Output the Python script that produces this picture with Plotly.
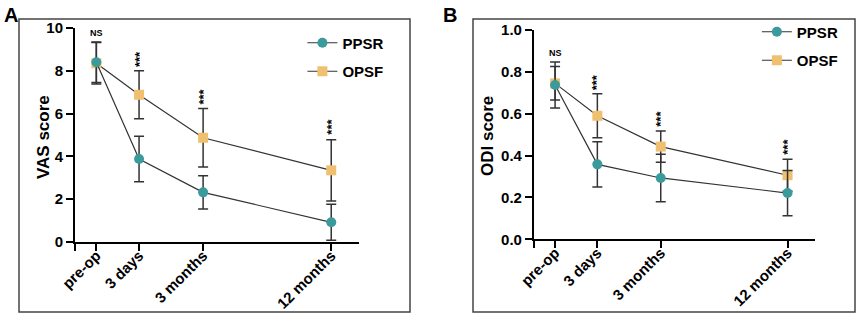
import plotly.graph_objects as go

# ---------------- data ----------------
timepoints = ["pre-op", "3 days", "3 months", "12 months"]
time_pos = [0, 2, 5, 11]

vas_ppsr = [8.40, 3.88, 2.32, 0.92]
vas_ppsr_sd = [0.95, 1.06, 0.78, 0.84]
vas_opsf = [8.35, 6.88, 4.87, 3.35]
vas_opsf_sd = [0.97, 1.12, 1.37, 1.43]

odi_ppsr = [0.737, 0.358, 0.293, 0.221]
odi_ppsr_sd = [0.11, 0.108, 0.113, 0.108]
odi_opsf = [0.745, 0.590, 0.443, 0.306]
odi_opsf_sd = [0.08, 0.105, 0.075, 0.076]

sig_labels = ["NS", "***", "***", "***"]

TEAL = "#3a9a9c"
GOLD = "#efc070"
DARK = "#333333"
FONT = "Liberation Sans, Arial, sans-serif"

fig = go.Figure()

def add_series(xaxis, yaxis, y, sd, name, color, symbol, legend, rank):
    fig.add_trace(go.Scatter(
        x=time_pos, y=y, name=name, mode="lines+markers",
        xaxis=xaxis, yaxis=yaxis, legend=legend, legendrank=rank,
        legendgroup=legend + name,
        line=dict(color=DARK, width=1.2),
        marker=dict(color=color, size=10, symbol=symbol, line=dict(width=0)),
        error_y=dict(type="data", array=sd, visible=True, color=DARK,
                     thickness=1.5, width=5),
        cliponaxis=False,
    ))

add_series("x", "y", vas_opsf, vas_opsf_sd, "OPSF", GOLD, "square", "legend", 2)
add_series("x", "y", vas_ppsr, vas_ppsr_sd, "PPSR", TEAL, "circle", "legend", 1)
add_series("x2", "y2", odi_opsf, odi_opsf_sd, "OPSF", GOLD, "square", "legend2", 2)
add_series("x2", "y2", odi_ppsr, odi_ppsr_sd, "PPSR", TEAL, "circle", "legend2", 1)

tickvals = [-1] + time_pos
ticktext = [""] + timepoints

axis_common = dict(showline=True, linecolor="black", linewidth=2,
                   ticks="outside", ticklen=7, tickwidth=2, tickcolor="black",
                   showgrid=False, zeroline=False, automargin=False,
                   ticklabeloverflow="allow",
                   tickfont=dict(family=FONT, size=15, color="black", weight="bold"))

xcommon = dict(axis_common, tickvals=tickvals, ticktext=ticktext, tickangle=-45,
               range=[-1, 12.3], ticklabelstandoff=-10)
xcommon["tickfont"] = dict(family=FONT, size=15, color="black", weight="bold")

legend_common = dict(xanchor="left", yanchor="middle", traceorder="grouped",
                     itemwidth=30, bgcolor="rgba(0,0,0,0)", tracegroupgap=6,
                     font=dict(family=FONT, size=15, weight="bold"))

fig.update_layout(
    width=864, height=314,
    margin=dict(l=0, r=0, t=0, b=0, pad=0, autoexpand=False),
    paper_bgcolor="white", plot_bgcolor="white",
    font=dict(family=FONT, color="black"),
    xaxis=dict(xcommon, domain=[0.0868, 0.4155], anchor="y"),
    yaxis=dict(axis_common, domain=[0.2293, 0.9108], anchor="x", range=[0, 10],
               tickvals=[0, 2, 4, 6, 8, 10]),
    xaxis2=dict(xcommon, domain=[0.618, 0.9433], anchor="y2"),
    yaxis2=dict(axis_common, domain=[0.2379, 0.9045], anchor="x2", range=[0, 1.0],
                tickvals=[0, 0.2, 0.4, 0.6, 0.8, 1.0], tickformat=".1f"),
    legend=dict(legend_common, x=0.35, y=1 - 57 / 314),
    legend2=dict(legend_common, x=0.876, y=1 - 46 / 314),
    showlegend=True,
)

# axis titles (placed next to the narrow tick labels, as in the reference)
for txt, xp, yp in [("VAS score", 43 / 864, 1 - 137 / 314),
                    ("ODI score", 487 / 864, 1 - 136 / 314)]:
    fig.add_annotation(text=txt, xref="paper", yref="paper", x=xp, y=yp,
                       textangle=-90, showarrow=False, xanchor="center", yanchor="middle",
                       font=dict(family=FONT, size=17, weight="bold", color="black"))

# panel boxes
for x0, x1 in [(19 / 864, 410 / 864), (473 / 864, 855 / 864)]:
    fig.add_shape(type="rect", xref="paper", yref="paper", x0=x0, x1=x1,
                  y0=1 - 312 / 314, y1=1 - 19 / 314,
                  line=dict(color="#444444", width=1.5))

# panel letters
fig.add_annotation(text="A", xref="paper", yref="paper", x=2 / 864, y=1 - 2 / 314,
                   xanchor="left", yanchor="top", showarrow=False,
                   font=dict(family=FONT, size=20, weight="bold"))
fig.add_annotation(text="B", xref="paper", yref="paper", x=441 / 864, y=1 - 2 / 314,
                   xanchor="left", yanchor="top", showarrow=False,
                   font=dict(family=FONT, size=20, weight="bold"))

# significance marks
vas_sig_y = [9.77, 8.55, 6.8, 5.4]
odi_sig_y = [0.889, 0.752, 0.575, 0.44]
for xr, yr, ys in [("x", "y", vas_sig_y), ("x2", "y2", odi_sig_y)]:
    for xp, lab, yv in zip(time_pos, sig_labels, ys):
        fig.add_annotation(text=lab, x=xp, y=yv, xref=xr, yref=yr, showarrow=False,
                           textangle=0 if lab == "NS" else -90,
                           font=dict(family=FONT, size=9 if lab == "NS" else 13,
                                     weight="bold", color="black"))

fig.write_html("out.html", config={"displayModeBar": False},
               post_script="document.body.style.margin='0';document.body.style.overflow='hidden';")
